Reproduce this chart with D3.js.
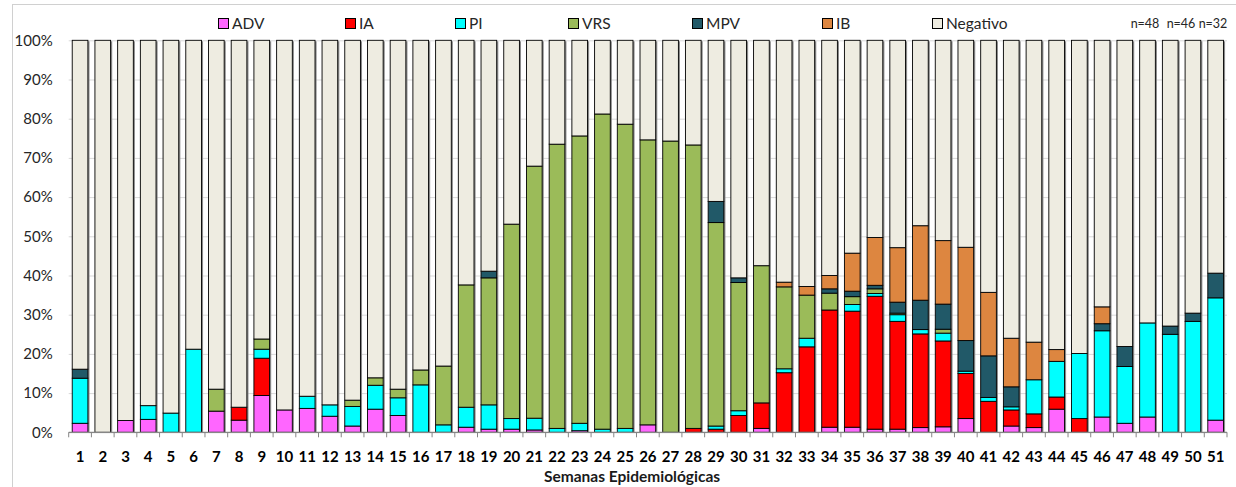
<!DOCTYPE html>
<html>
<head>
<meta charset="utf-8">
<script src="https://cdn.jsdelivr.net/npm/d3@7"></script>
<style>
  body { margin: 0; background: #fff; }
  svg { display: block; font-family: Lato, "Open Sans", sans-serif; }
  .grid line { stroke: #d9d9d9; }
  .grid path { display: none; }
</style>
</head>
<body>
<svg id="chart" width="1236" height="487"></svg>
<script>
const weeks = d3.range(1, 52).map(String);
const keys = ['ADV', 'IA', 'PI', 'VRS', 'MPV', 'IB', 'Negativo'];
const yTicks = [0, 10, 20, 30, 40, 50, 60, 70, 80, 90, 100];
const sampleNotes = ['n=48', 'n=46', 'n=32'];

// percent of samples per week
const adv = [2.3, 0, 3.0, 3.3, 0, 0, 5.4, 3.1, 9.4, 5.7, 6.1, 4.1, 1.6, 5.9, 4.3, 0, 0, 1.3, 0.8, 0.8,
  0.6, 0, 0.4, 0, 0, 1.9, 0, 0, 0, 0, 1.0, 0, 0, 1.3, 1.3, 0.8, 0.8, 1.2, 1.4, 3.5,
  0, 1.6, 1.2, 5.9, 0, 3.9, 2.3, 3.9, 0, 0, 3.1];
const ia = [0, 0, 0, 0, 0, 0, 0, 3.3, 9.5, 0, 0, 0, 0, 0, 0, 0, 0, 0, 0, 0,
  0, 0, 0, 0, 0, 0, 0, 1.0, 0.8, 4.3, 6.5, 15.2, 21.8, 29.9, 29.6, 33.9, 27.5, 23.9, 21.9, 11.5,
  7.9, 4.1, 3.5, 3.1, 3.5, 0, 0, 0, 0, 0, 0];
const pi = [11.5, 0, 0, 3.5, 4.9, 21.2, 0, 0, 2.3, 0, 3.1, 2.9, 5.0, 6.1, 4.5, 12.1, 1.9, 5.1, 6.2, 2.7,
  3.0, 1.0, 1.9, 0.8, 1.0, 0, 0, 0, 0.8, 1.2, 0, 1.0, 2.2, 0, 1.7, 0.7, 1.7, 1.1, 2.0, 0.6,
  1.0, 0.8, 8.7, 9.1, 16.6, 22.0, 14.5, 24.0, 25.0, 28.3, 31.2];
const vrs = [0, 0, 0, 0, 0, 0, 5.6, 0, 2.6, 0, 0, 0, 1.6, 1.9, 2.2, 3.8, 15.0, 31.2, 32.4, 49.6,
  64.3, 72.5, 73.3, 80.4, 77.6, 72.7, 74.3, 72.3, 51.9, 32.7, 35.0, 20.9, 11.0, 4.3, 2.0, 1.2, 0.4, 0, 1.0, 0,
  0, 0, 0, 0, 0, 0, 0, 0, 0, 0, 0];
const mpv = [2.3, 0, 0, 0, 0, 0, 0, 0, 0, 0, 0, 0, 0, 0, 0, 0, 0, 0, 1.7, 0,
  0, 0, 0, 0, 0, 0, 0, 0, 5.4, 1.2, 0, 0, 0, 1.1, 1.4, 0.9, 2.8, 7.5, 6.4, 7.8,
  10.6, 5.1, 0, 0, 0, 1.8, 5.1, 0, 2.1, 2.1, 6.3];
const ib = [0, 0, 0, 0, 0, 0, 0, 0, 0, 0, 0, 0, 0, 0, 0, 0, 0, 0, 0, 0,
  0, 0, 0, 0, 0, 0, 0, 0, 0, 0, 0, 1.2, 2.2, 3.4, 9.7, 12.2, 13.9, 19.0, 16.2, 23.8,
  16.2, 12.4, 9.6, 3.0, 0, 4.3, 0, 0, 0, 0, 0];
const negativo = [83.9, 100, 97.0, 93.2, 95.1, 78.8, 89.0, 93.6, 76.2, 94.3, 90.8, 93.0, 91.8, 86.1, 89.0, 84.1, 83.1, 62.4, 58.9, 46.9,
  32.1, 26.5, 24.4, 18.8, 21.4, 25.4, 25.7, 26.7, 41.1, 60.6, 57.5, 61.7, 62.8, 60.0, 54.3, 50.3, 52.9, 47.3, 51.1, 52.8,
  64.3, 76.0, 77.0, 78.9, 79.9, 68.0, 78.1, 72.1, 72.9, 69.6, 59.4];

const colors = {
  ADV: '#ff66ff', IA: '#ff0000', PI: '#00ffff', VRS: '#9bbb59',
  MPV: '#215968', IB: '#dd8640', Negativo: '#eeece1'
};

const table = weeks.map((w, i) => ({
  week: w, ADV: adv[i], IA: ia[i], PI: pi[i], VRS: vrs[i],
  MPV: mpv[i], IB: ib[i], Negativo: negativo[i]
}));

const svg = d3.select('#chart');
const plotLeft = 68.7, plotRight = 1227, plotTop = 40.3, plotBottom = 432.3;

// outer frame of the chart area
svg.append('rect')
  .attr('x', 12.5).attr('y', 4.5)
  .attr('width', 1240).attr('height', 500)
  .attr('fill', 'none').attr('stroke', '#d0d0d0');

const x = d3.scaleBand()
  .domain(weeks)
  .range([plotLeft, plotRight])
  .paddingInner(0.31)
  .paddingOuter(0.155);

const y = d3.scaleLinear()
  .domain([0, 100])
  .range([plotBottom, plotTop]);

// horizontal grid lines
svg.append('g')
  .attr('class', 'grid')
  .attr('transform', `translate(${plotLeft},0)`)
  .call(d3.axisLeft(y).tickValues(yTicks).tickSize(-(plotRight - plotLeft)).tickFormat(''));

// y labels
const yAxis = svg.append('g')
  .attr('transform', `translate(${plotLeft},0)`)
  .call(d3.axisLeft(y).tickValues(yTicks).tickSize(0).tickPadding(16).tickFormat(d => d + '%'));
yAxis.select('.domain').remove();
yAxis.selectAll('text').attr('font-size', 15).attr('fill', '#262626').attr('font-family', 'Lato, sans-serif');

const series = d3.stack().keys(keys)(table);

// shadow behind each bar
svg.append('g')
  .selectAll('rect')
  .data(table)
  .join('rect')
  .attr('x', d => x(d.week) + 1.6)
  .attr('y', y(100) + 1)
  .attr('width', x.bandwidth())
  .attr('height', y(0) - y(100) - 1)
  .attr('fill', '#8a8a8a');

svg.append('g')
  .selectAll('g')
  .data(series)
  .join('g')
  .attr('fill', d => colors[d.key])
  .selectAll('rect')
  .data(d => d.filter(s => s[1] - s[0] > 0))
  .join('rect')
  .attr('x', d => x(d.data.week))
  .attr('y', d => y(d[1]))
  .attr('width', x.bandwidth())
  .attr('height', d => y(d[0]) - y(d[1]))
  .attr('stroke', '#000')
  .attr('stroke-width', 0.9);

// x axis line and ticks between categories
svg.append('line')
  .attr('x1', plotLeft).attr('x2', plotRight)
  .attr('y1', plotBottom).attr('y2', plotBottom)
  .attr('stroke', '#868686').attr('stroke-width', 1.2);

const step = x.step();
svg.append('g')
  .selectAll('line')
  .data(d3.range(weeks.length + 1))
  .join('line')
  .attr('x1', i => plotLeft + i * step).attr('x2', i => plotLeft + i * step)
  .attr('y1', plotBottom).attr('y2', plotBottom + 5)
  .attr('stroke', '#868686');

const xAxis = svg.append('g')
  .attr('transform', `translate(0,${plotBottom})`)
  .call(d3.axisBottom(x).tickSize(0).tickPadding(19));
xAxis.select('.domain').remove();
xAxis.selectAll('text')
  .attr('font-size', 15).attr('font-weight', 'bold')
  .attr('fill', '#000').attr('font-family', 'Lato, sans-serif');

svg.append('text')
  .attr('x', 632).attr('y', 482)
  .attr('text-anchor', 'middle')
  .attr('font-size', 15.5).attr('font-weight', 'bold')
  .attr('fill', '#1a1a1a')
  .text('Semanas Epidemiológicas');

// legend
const legendX = [218, 345, 455, 568, 692, 822, 932];
const legend = svg.append('g')
  .selectAll('g')
  .data(keys)
  .join('g')
  .attr('transform', (d, i) => `translate(${legendX[i]},18)`);

legend.append('rect')
  .attr('x', 0.5).attr('y', 0.5)
  .attr('width', 10).attr('height', 10)
  .attr('fill', d => colors[d])
  .attr('stroke', '#000');

legend.append('text')
  .attr('x', 14).attr('y', 10.5)
  .attr('font-size', 15.5)
  .attr('fill', '#262626')
  .text(d => d);

svg.append('g')
  .selectAll('text')
  .data(sampleNotes)
  .join('text')
  .attr('x', (d, i) => [1145, 1181, 1213][i])
  .attr('y', 28)
  .attr('text-anchor', 'middle')
  .attr('font-size', 12.5)
  .attr('fill', '#262626')
  .text(d => d);
</script>
</body>
</html>
